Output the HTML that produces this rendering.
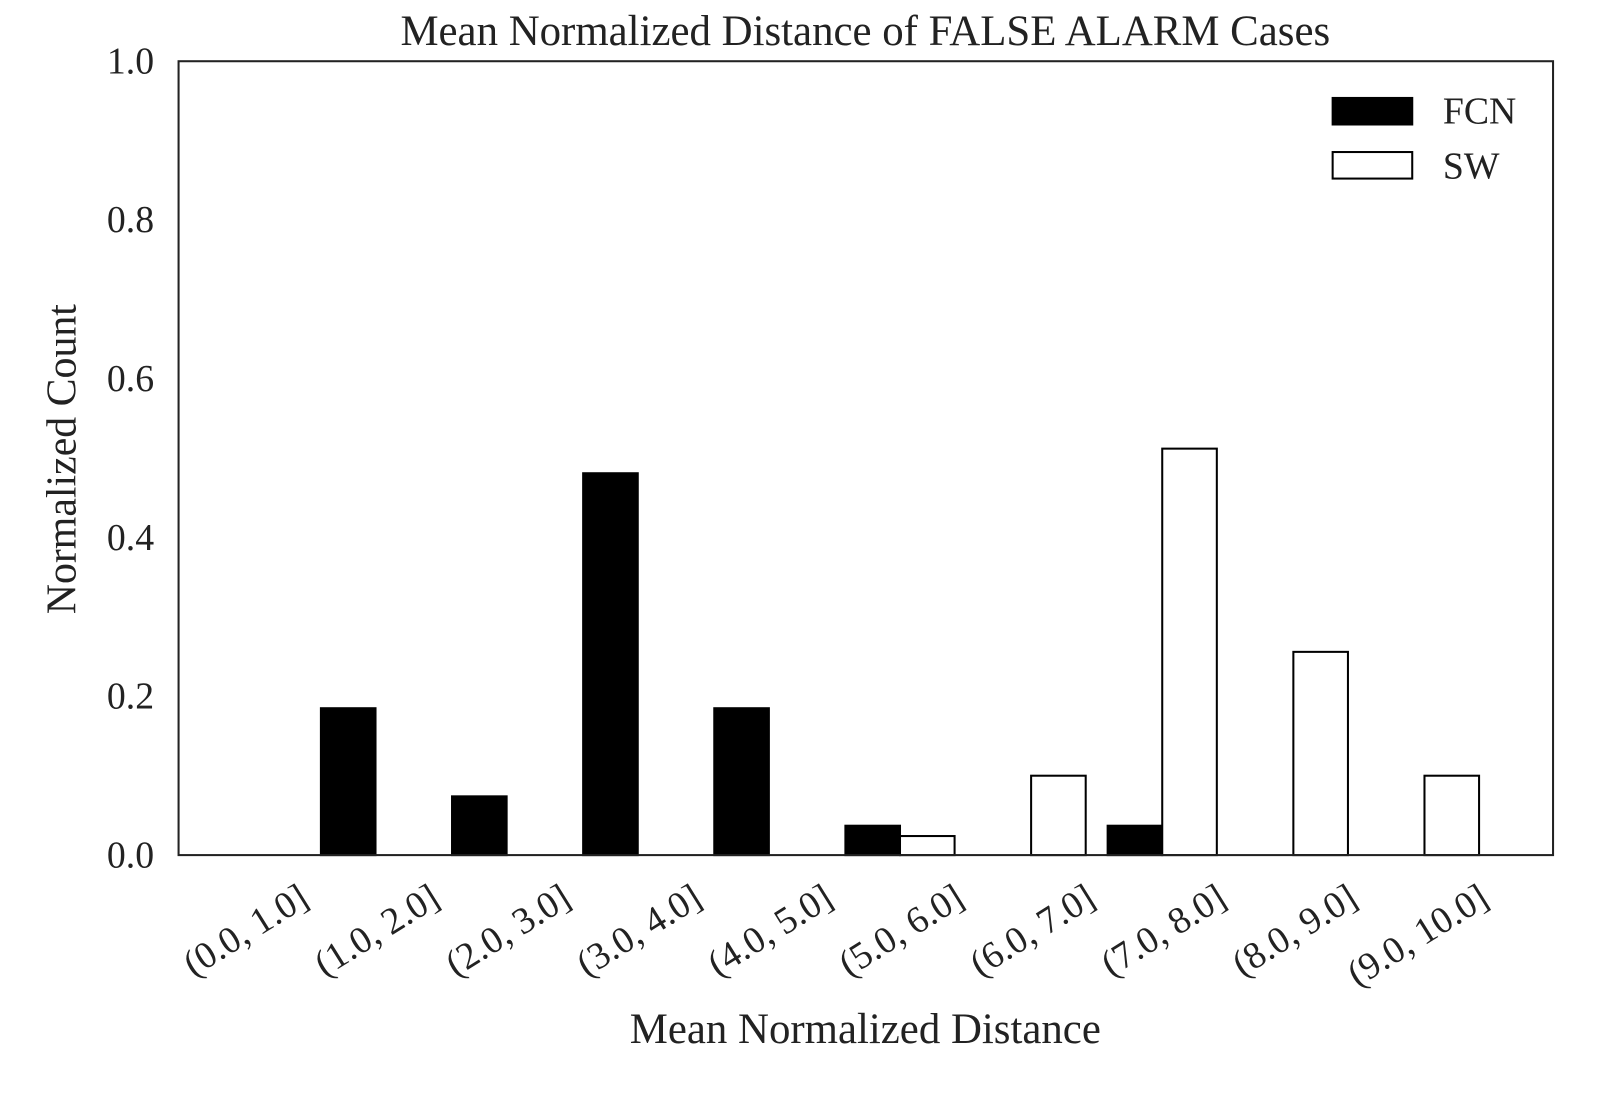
<!DOCTYPE html>
<html><head><meta charset="utf-8"><style>
html,body{margin:0;padding:0;background:#fff;}
svg{display:block;font-family:"Liberation Serif",serif;}
</style></head><body>
<svg id="chart" width="1600" height="1100" xmlns="http://www.w3.org/2000/svg">
<g transform="scale(1.0204)">
<text x="848" y="44" font-size="42" text-anchor="middle" fill="#222">Mean Normalized Distance of FALSE ALARM Cases</text>
<g id="yaxis"></g>
<g id="bars"></g>
<g id="xaxis"></g>
<rect x="175" y="60" width="1347" height="778" fill="none" stroke="#222" stroke-width="2"/>
<text x="848" y="1022" font-size="42" text-anchor="middle" fill="#222">Mean Normalized Distance</text>
<text transform="translate(74,450) rotate(-90)" font-size="41" text-anchor="middle" fill="#222">Normalized Count</text>
<g>
<g><rect x="1306" y="96" width="78" height="26" fill="#000" stroke="#000" stroke-width="2"/><text x="1414" y="121" font-size="37" fill="#222">FCN</text></g>
<g><rect x="1306" y="149" width="78" height="26" fill="#fff" stroke="#000" stroke-width="2"/><text x="1414" y="175" font-size="37" fill="#222">SW</text></g>
</g>
</g>
</svg>
<script>
const categories=["(0.0, 1.0]","(1.0, 2.0]","(2.0, 3.0]","(3.0, 4.0]","(4.0, 5.0]","(5.0, 6.0]","(6.0, 7.0]","(7.0, 8.0]","(8.0, 9.0]","(9.0, 10.0]"];
const fcnValues=[0,0.185,0.074,0.481,0.185,0.037,0,0.037,0,0];
const swValues=[0,0,0,0,0,0.024,0.1,0.512,0.256,0.1];
const yTicks=[0,0.2,0.4,0.6,0.8,1.0];
const yTickLabels=["0.0","0.2","0.4","0.6","0.8","1.0"];
const NS="http://www.w3.org/2000/svg";
const y=v=>838-778*v;
const x=i=>239.5+128.5*i;
const bw=53.5;
function mk(tag,attrs,parent){const e=document.createElementNS(NS,tag);for(const k in attrs)e.setAttribute(k,attrs[k]);parent.appendChild(e);return e;}
const yg=document.getElementById('yaxis');
yTicks.forEach((t,i)=>{
  const tx=mk('text',{x:151,y:y(t)+12,'font-size':37,'text-anchor':'end',fill:'#222'},yg);
  
  
  tx.textContent=yTickLabels[i];
});
const bg=document.getElementById('bars');
categories.forEach((c,i)=>{
  const h1=778*fcnValues[i];
  const r1=mk('rect',{x:x(i)-bw,y:y(fcnValues[i]),width:bw,height:h1,fill:'#000',stroke:'#000','stroke-width':2},bg);
  
  
  const h2=778*swValues[i];
  const r2=mk('rect',{x:x(i),y:y(swValues[i]),width:bw,height:h2,fill:'#fff',stroke:'#000','stroke-width':2},bg);
  
  
});
const xg=document.getElementById('xaxis');
categories.forEach((c,i)=>{
  const px=x(i)+65, py=886;
  const t=mk('text',{x:px,y:py,'font-size':37,'text-anchor':'end',fill:'#222',transform:`rotate(-32 ${px} ${py})`},xg);
  
  
  t.textContent=c;
});
</script>
</body></html>
